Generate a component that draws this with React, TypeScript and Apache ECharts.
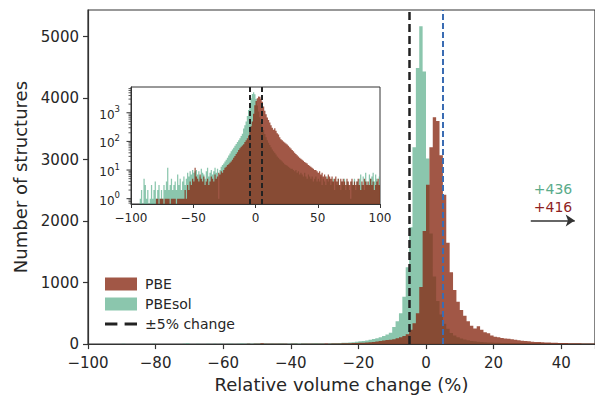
import React, { useEffect, useRef } from 'react';
import * as echarts from 'echarts';

// Histogram bins: 1 % wide, first bin starts at -100 %, 200 bins up to +100 %
const binStart0 = -100;
const binWidth = 1;

// PBEsol counts per bin (bins starting at -100, -99, ..., 99)
const pbesolCounts = [
  0, 0, 0, 0, 0, 0, 0, 1, 2, 0,
  5, 3, 1, 2, 0, 1, 3, 1, 2, 4,
  1, 2, 3, 1, 2, 1, 3, 2, 4, 12,
  2, 3, 5, 2, 3, 4, 2, 7, 3, 5,
  2, 4, 6, 3, 5, 8, 6, 9, 7, 10,
  8, 9, 10, 7, 9, 6, 11, 8, 7, 5,
  9, 12, 6, 8, 10, 7, 9, 12, 8, 11,
  1, 10, 13, 15, 17, 20, 23, 27, 32, 38,
  45, 52, 60, 70, 82, 95, 110, 130, 155, 185,
  280, 370, 500, 770, 1250, 1900, 3200, 4490, 5170, 4435,
  3020, 1800, 1100, 700, 480, 330, 250, 180, 140, 110,
  90, 75, 62, 52, 45, 40, 35, 30, 27, 24,
  22, 20, 18, 16, 15, 14, 13, 12, 11, 11,
  10, 9, 10, 8, 9, 7, 8, 7, 6, 8,
  6, 5, 7, 6, 5, 6, 4, 5, 6, 4,
  5, 4, 6, 3, 5, 4, 3, 6, 4, 5,
  3, 4, 5, 2, 4, 3, 5, 3, 2, 4,
  3, 5, 2, 4, 3, 2, 1, 4, 3, 5,
  2, 4, 3, 5, 7, 3, 6, 2, 8, 4,
  3, 7, 5, 6, 8, 4, 7, 5, 3, 6,
];

// PBE counts per bin (bins starting at -100, -99, ..., 99)
const pbeCounts = [
  0, 0, 0, 0, 0, 0, 0, 0, 0, 0,
  0, 0, 0, 0, 0, 0, 0, 0, 0, 0,
  1, 1, 0, 1, 1, 1, 0, 1, 1, 1,
  1, 0, 1, 1, 1, 1, 0, 1, 1, 1,
  1, 1, 1, 2, 1, 3, 2, 4, 3, 5,
  4, 12, 6, 5, 4, 7, 5, 4, 6, 3,
  4, 5, 3, 4, 6, 5, 4, 7, 5, 6,
  8, 7, 9, 8, 10, 12, 13, 15, 16, 18,
  20, 23, 27, 31, 36, 42, 50, 58, 65, 72,
  80, 95, 110, 130, 160, 235, 340, 500, 930, 1840,
  2590, 3200, 3690, 3630, 3070, 2430, 1650, 1170, 880, 690,
  556, 460, 370, 300, 255, 290, 235, 193, 175, 140,
  120, 110, 100, 92, 85, 78, 70, 62, 56, 50,
  45, 40, 36, 33, 30, 27, 25, 23, 21, 19,
  18, 17, 15, 14, 13, 12, 11, 10, 10, 9,
  8, 9, 7, 8, 6, 7, 6, 5, 7, 6,
  5, 6, 4, 5, 6, 4, 5, 3, 5, 4,
  5, 4, 3, 5, 4, 3, 4, 5, 3, 4,
  3, 4, 5, 3, 2, 4, 3, 5, 4, 3,
  4, 3, 5, 3, 4, 2, 3, 4, 5, 3,
];

// structures beyond the main plot's right edge
const overflowPBEsol = '+436';
const overflowPBE = '+416';

const thresholdLines = [-5, 5];
const arrowFrom = [31, 2010];
const arrowTo = [44, 2010];

const logMajorTicks = [1, 10, 100, 1000];
const logMinorTicks = [
  0.7, 0.8, 0.9,
  2, 3, 4, 5, 6, 7, 8, 9,
  20, 30, 40, 50, 60, 70, 80, 90,
  200, 300, 400, 500, 600, 700, 800, 900,
  2000, 3000, 4000, 5000, 6000, 7000,
];

const GREEN = 'rgba(90,174,138,0.7)';
const BROWN = 'rgba(134,40,18,0.78)';
const TEXT = '#262626';
const AXIS = '#333333';
const FONT = 'DejaVu Sans';

const INSET_YMIN = 0.652;
const INSET_YMAX = 7943;

function toBins(counts: number[]) {
  return counts.map((c, i) => [binStart0 + i * binWidth, binStart0 + (i + 1) * binWidth, c]);
}

function minusFmt(v: number) {
  return v < 0 ? '\u2212' + Math.abs(v) : String(v);
}

// one step-outline polygon per histogram (avoids seams between adjacent bars)
function histSeries(name: string, counts: number[], color: string, axisIdx: number, base: number) {
  const bins = toBins(counts);
  return {
    type: 'custom',
    name,
    xAxisIndex: axisIdx,
    yAxisIndex: axisIdx,
    clip: true,
    itemStyle: { color },
    encode: { x: [0, 1], y: 2 },
    data: bins,
    silent: true,
    renderItem: (params: any, api: any) => {
      if (params.dataIndex !== 0) return null;
      const pts: number[][] = [];
      pts.push(api.coord([bins[0][0], base]));
      bins.forEach((b) => {
        const v = b[2] > 0 ? b[2] : base;
        pts.push(api.coord([b[0], v]));
        pts.push(api.coord([b[1], v]));
      });
      pts.push(api.coord([bins[bins.length - 1][1], base]));
      return { type: 'polygon', shape: { points: pts }, style: { fill: color } };
    },
  };
}

function tickSeries(name: string, values: number[], len: number, width: number) {
  return {
    type: 'custom', name, xAxisIndex: 1, yAxisIndex: 1, silent: true,
    data: values.map((v) => [v]),
    renderItem: (params: any, api: any) => {
      const p = api.coord([-100, api.value(0)]);
      return { type: 'line', shape: { x1: p[0] - len, y1: p[1], x2: p[0], y2: p[1] }, style: { stroke: AXIS, lineWidth: width } };
    },
  };
}

export default function App() {
  const ref = useRef<HTMLDivElement>(null);
  useEffect(() => {
    if (!ref.current) return;
    const chart = echarts.init(ref.current, null, { renderer: 'svg' });
    const option: any = {
      animation: false,
      textStyle: { fontFamily: FONT },
      grid: [
        { left: 88, right: 1.5, top: 10, bottom: 50, show: true, borderColor: AXIS, borderWidth: 1.2 },
        { left: 131, top: 87, width: 249, height: 117, show: true, backgroundColor: '#ffffff', borderColor: AXIS, borderWidth: 1 },
      ],
      xAxis: [
        {
          type: 'value', gridIndex: 0, min: -100, max: 50, interval: 20,
          name: 'Relative volume change (%)', nameLocation: 'middle', nameGap: 29,
          nameTextStyle: { fontSize: 18, color: TEXT, fontFamily: FONT },
          axisLine: { show: true, onZero: false, lineStyle: { color: AXIS, width: 1.2 } },
          axisTick: { show: true, length: 5, lineStyle: { color: AXIS, width: 1.2 } },
          axisLabel: { fontSize: 15, color: TEXT, margin: 11, fontFamily: FONT, formatter: (v: number) => (v === 50 ? '' : minusFmt(v)) },
          splitLine: { show: false },
        },
        {
          type: 'value', gridIndex: 1, min: -100, max: 100, interval: 50,
          axisLine: { show: true, onZero: false, lineStyle: { color: AXIS, width: 1 } },
          axisTick: { show: true, length: 4, lineStyle: { color: AXIS } },
          axisLabel: { fontSize: 12, color: TEXT, margin: 8, fontFamily: FONT, formatter: (v: number) => minusFmt(v) },
          splitLine: { show: false },
        },
      ],
      yAxis: [
        {
          type: 'value', gridIndex: 0, min: 0, max: 5434, interval: 1000,
          name: 'Number of structures', nameLocation: 'middle', nameGap: 56,
          nameTextStyle: { fontSize: 18, color: TEXT, fontFamily: FONT },
          axisLine: { show: true, onZero: false, lineStyle: { color: AXIS, width: 1.2 } },
          axisTick: { show: true, length: 5, lineStyle: { color: AXIS, width: 1.2 } },
          axisLabel: { fontSize: 15, color: TEXT, margin: 9, fontFamily: FONT, showMaxLabel: false, formatter: (v: number) => (v % 1000 === 0 ? String(v) : '') },
          splitLine: { show: false },
        },
        {
          type: 'log', logBase: 10, gridIndex: 1, min: INSET_YMIN, max: INSET_YMAX,
          axisLine: { show: true, onZero: false, lineStyle: { color: AXIS, width: 1 } },
          axisTick: { show: false },
          axisLabel: {
            color: TEXT, margin: 11, fontFamily: FONT,
            formatter: (v: number) => {
              const l = Math.log10(v);
              const e = Math.round(l);
              if (Math.abs(l - e) > 1e-6) return '';
              return '{b|10}{e|' + e + '}';
            },
            rich: {
              b: { fontSize: 12, lineHeight: 16, verticalAlign: 'bottom', color: TEXT, fontFamily: FONT },
              e: { fontSize: 8.5, lineHeight: 16, verticalAlign: 'top', color: TEXT, fontFamily: FONT },
            },
          },
          splitLine: { show: false },
        },
      ],
      legend: {
        data: [
          { name: 'PBE', icon: 'rect' },
          { name: 'PBEsol', icon: 'rect' },
          { name: '\u00b15% change', icon: 'path://M0,0H12V3H0Z M19,0H31V3H19Z', itemStyle: { color: '#222222' } },
        ],
        orient: 'vertical', left: 100, top: 272, itemWidth: 32, itemHeight: 13, itemGap: 6,
        textStyle: { fontSize: 14, color: TEXT, fontFamily: FONT, padding: [0, 0, 0, 3] },
        selectedMode: false,
      },
      graphic: [
        { type: 'text', x: 553, y: 189, style: { text: overflowPBEsol, fill: '#5aab8a', font: '14px "DejaVu Sans"', align: 'center', verticalAlign: 'middle' } },
        { type: 'text', x: 553, y: 207, style: { text: overflowPBE, fill: '#8f1f1f', font: '14px "DejaVu Sans"', align: 'center', verticalAlign: 'middle' } },
      ],
      series: [
        histSeries('PBEsol', pbesolCounts, GREEN, 0, 0),
        histSeries('PBE', pbeCounts, BROWN, 0, 0),
        histSeries('PBEsol inset', pbesolCounts, GREEN, 1, INSET_YMIN),
        histSeries('PBE inset', pbeCounts, BROWN, 1, INSET_YMIN),
        tickSeries('minor ticks', logMinorTicks, 2.5, 0.8),
        tickSeries('major ticks', logMajorTicks, 4.5, 1),
        {
          type: 'line', name: '\u00b15% change', xAxisIndex: 0, yAxisIndex: 0, data: [], symbol: 'none',
          itemStyle: { color: '#222222' },
          lineStyle: { color: '#222222', width: 2.5, type: [11, 6] },
          markLine: {
            silent: true, symbol: ['none', 'none'], label: { show: false },
            data: [
              { xAxis: thresholdLines[0], lineStyle: { color: '#222222', width: 2.5, type: [8, 4] } },
              { xAxis: thresholdLines[1], lineStyle: { color: '#3a6cb3', width: 2, type: [6, 3] } },
            ],
          },
        },
        {
          type: 'line', name: 'inset lines', xAxisIndex: 1, yAxisIndex: 1, data: [], symbol: 'none',
          markLine: {
            silent: true, symbol: ['none', 'none'], label: { show: false },
            lineStyle: { color: '#222222', width: 2, type: [5, 3] },
            data: [{ xAxis: thresholdLines[0] }, { xAxis: thresholdLines[1] }],
          },
        },
        {
          type: 'line', name: 'overflow arrow', xAxisIndex: 0, yAxisIndex: 0, data: [], symbol: 'none',
          markLine: {
            silent: true, symbol: ['none', 'arrow'], symbolSize: 9, label: { show: false },
            lineStyle: { color: '#333333', width: 1.5, type: 'solid' },
            data: [[{ coord: arrowFrom }, { coord: arrowTo }]],
          },
        },
      ],
    };
    chart.setOption(option);
    return () => chart.dispose();
  }, []);
  return <div ref={ref} style={{ position: 'fixed', left: 0, top: 0, width: 598, height: 398, background: '#fff' }} />;
}
